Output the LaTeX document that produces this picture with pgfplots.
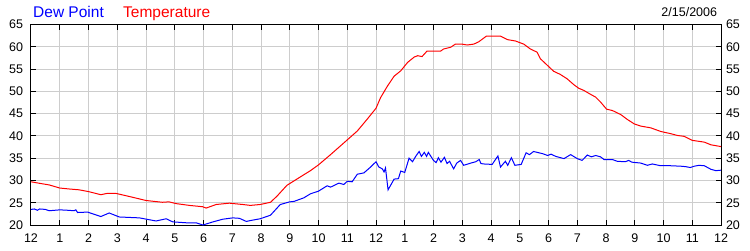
\documentclass[border=0pt]{standalone}
\usepackage{fontspec}
\setmainfont{Liberation Sans}
\usepackage{pgfplots}
\pgfplotsset{compat=1.18}
\definecolor{gridgray}{RGB}{205,205,205}
\begin{document}
\begin{tikzpicture}[x=1pt,y=1pt]
\useasboundingbox (-31,-25) rectangle (719,225);
\begin{axis}[
 at={(0,0)}, anchor=south west,
 scale only axis, width=690pt, height=200.5pt,
 xmin=0, xmax=24, ymin=20, ymax=65,
 xtick={0,1,...,24},
 xticklabels={12,1,2,3,4,5,6,7,8,9,10,11,12,1,2,3,4,5,6,7,8,9,10,11,12},
 ytick={20,25,...,65},
 axis line style={black, line width=1pt},
 grid=major, major grid style={gridgray, line width=1pt},
 tick align=inside, major tick length=5pt, tick style={black, line width=1pt},
 xtick pos=both, ytick pos=both,
 tick label style={font=\fontsize{12.5}{14}\selectfont},
 /pgf/number format/assume math mode=true,
 yticklabel style={xshift=-4.5pt},
 xticklabel style={yshift=-5pt},
 clip=true,
]
\addplot[red, line width=1pt] coordinates {
(0.00,29.7)(0.35,29.3)(0.63,29.0)(1.00,28.3)(1.30,28.1)(1.67,27.9)(2.00,27.5)(2.43,26.8)(2.65,27.1)(2.95,27.1)
(3.42,26.4)(4.00,25.5)(4.57,25.1)(4.80,25.2)(5.05,24.8)(5.51,24.4)(5.97,24.1)(6.09,23.8)(6.44,24.6)(6.90,24.9)
(7.37,24.6)(7.63,24.4)(7.97,24.6)(8.33,25.1)(8.56,26.5)(8.90,28.9)(9.37,30.8)(9.72,32.2)(10.00,33.5)(10.42,35.8)
(11.00,39.1)(11.35,41.1)(11.70,43.8)(12.00,46.2)(12.16,48.6)(12.40,51.2)(12.63,53.4)(12.86,54.6)(13.10,56.5)(13.33,57.7)
(13.45,58.0)(13.60,57.8)(13.77,59.0)(14.24,59.0)(14.35,59.5)(14.60,59.9)(14.76,60.6)(14.99,60.6)(15.17,60.4)(15.40,60.6)
(15.57,61.1)(15.84,62.4)(16.33,62.4)(16.58,61.6)(16.85,61.3)(17.14,60.6)(17.37,59.5)(17.60,58.8)(17.72,57.3)(17.95,55.9)
(18.18,54.5)(18.41,53.8)(18.65,52.8)(18.88,51.5)(19.05,50.7)(19.23,50.2)(19.47,49.3)(19.64,48.7)(19.81,47.6)(20.02,46.0)
(20.22,45.7)(20.51,44.8)(20.74,43.7)(20.98,42.7)(21.21,42.2)(21.56,41.8)(21.90,41.0)(22.25,40.5)(22.48,40.1)(22.72,39.9)
(23.00,39.0)(23.42,38.6)(23.65,38.0)(24.00,37.6)
};
\addplot[blue, line width=1pt] coordinates {
(0.00,23.5)(0.12,23.6)(0.22,23.3)(0.30,23.6)(0.50,23.5)(0.63,23.2)(1.00,23.4)(1.30,23.3)(1.50,23.2)(1.56,23.4)
(1.62,22.8)(1.97,22.9)(2.15,22.5)(2.43,21.9)(2.72,22.7)(3.07,21.8)(3.77,21.6)(4.35,20.9)(4.70,21.4)(4.93,20.7)
(5.40,20.5)(5.74,20.5)(5.98,20.0)(6.33,20.7)(6.67,21.3)(7.02,21.6)(7.25,21.5)(7.49,20.8)(7.63,21.0)(7.97,21.4)
(8.33,22.2)(8.67,24.6)(9.00,25.2)(9.15,25.3)(9.49,26.1)(9.72,27.0)(10.00,27.6)(10.30,28.8)(10.42,28.5)(10.71,29.4)
(10.88,29.1)(11.00,29.8)(11.17,29.7)(11.35,31.4)(11.58,31.7)(11.81,33.0)(12.00,34.2)(12.10,33.0)(12.22,32.6)(12.28,31.9)
(12.33,32.8)(12.42,27.9)(12.63,30.3)(12.78,30.4)(12.86,32.1)(13.00,31.8)(13.15,35.0)(13.27,34.2)(13.38,35.4)(13.50,36.5)
(13.58,35.4)(13.68,36.3)(13.76,35.4)(13.82,36.3)(14.00,34.5)(14.09,34.0)(14.17,35.1)(14.26,34.1)(14.38,35.2)(14.47,33.8)
(14.56,34.3)(14.70,32.6)(14.81,33.9)(14.94,34.5)(15.05,33.4)(15.30,33.9)(15.47,34.2)(15.59,34.7)(15.65,33.8)(15.75,33.7)
(16.04,33.6)(16.24,35.5)(16.33,33.0)(16.50,34.3)(16.58,33.4)(16.71,35.1)(16.83,33.4)(17.05,33.6)(17.22,36.2)(17.34,35.8)
(17.48,36.5)(17.80,36.0)(17.97,35.6)(18.09,35.9)(18.25,35.4)(18.54,34.9)(18.77,35.8)(19.00,34.9)(19.17,34.5)(19.35,35.7)
(19.49,35.3)(19.64,35.6)(19.81,35.3)(19.93,34.7)(20.22,34.7)(20.39,34.3)(20.67,34.2)(20.79,34.5)(20.90,34.1)(21.21,33.9)
(21.44,33.4)(21.61,33.7)(21.90,33.3)(22.25,33.3)(22.60,33.2)(22.77,33.1)(22.93,32.9)(23.07,33.2)(23.24,33.4)(23.42,33.3)
(23.65,32.5)(23.82,32.2)(24.00,32.3)
};
\end{axis}
\begin{axis}[
 at={(0,0)}, anchor=south west,
 scale only axis, width=690pt, height=200.5pt,
 xmin=0, xmax=24, ymin=20, ymax=65,
 xtick=\empty, ytick={20,25,...,65},
 yticklabel pos=right,
 axis line style={draw=none},
 tick align=inside, major tick length=0pt,
 tick label style={font=\fontsize{12.5}{14}\selectfont},
 /pgf/number format/assume math mode=true,
 yticklabel style={xshift=1.5pt},
]
\end{axis}
\node[anchor=base west, text=blue, inner sep=0pt, font=\fontsize{15.5}{17}\selectfont] at (2,207.3) {Dew Point};
\node[anchor=base west, text=red, inner sep=0pt, font=\fontsize{15.5}{17}\selectfont] at (92,207.3) {Temperature};
\node[anchor=base east, inner sep=0pt, font=\fontsize{12.5}{14}\selectfont] at (686.3,208.3) {2/15/2006};
\end{tikzpicture}
\end{document}
